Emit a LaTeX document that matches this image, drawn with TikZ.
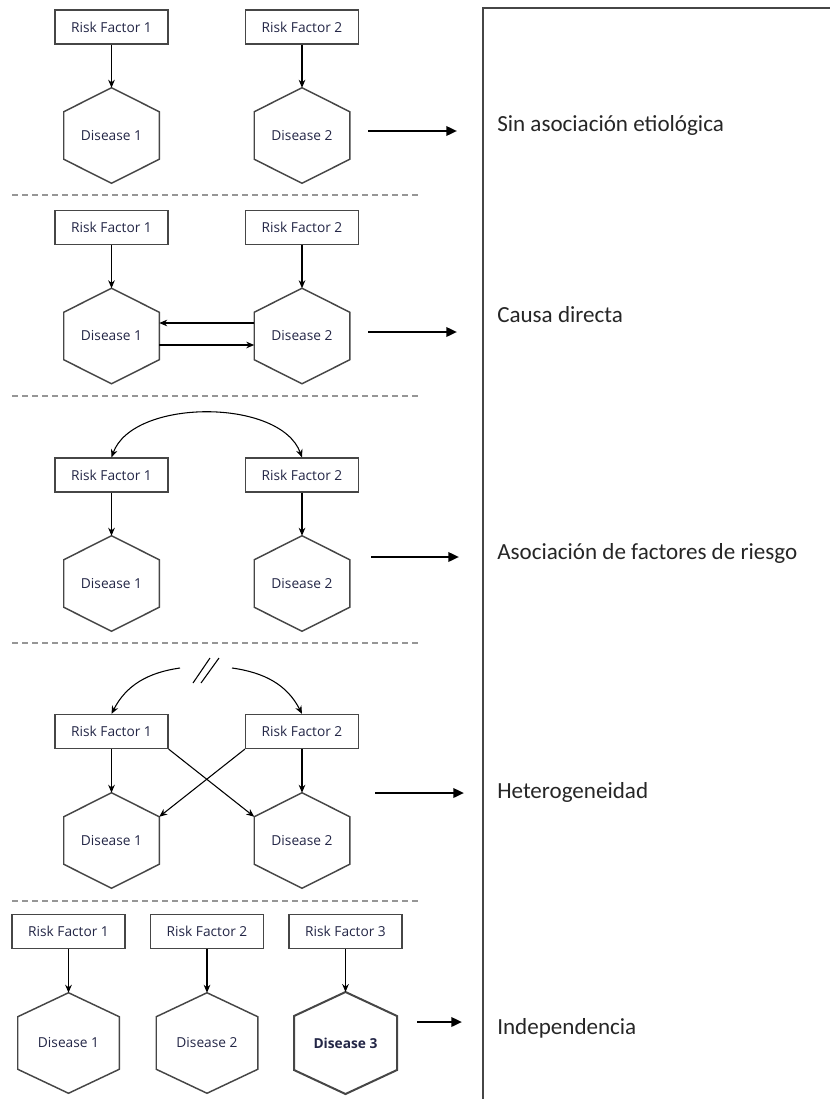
\documentclass[tikz,border=0pt]{standalone}
\usepackage{fontspec}
\newfontfamily\diagfont{Open Sans}
\newfontfamily\notefont{Carlito}
\usetikzlibrary{arrows.meta}

\definecolor{labelink}{RGB}{35,38,70}
\definecolor{edgegray}{RGB}{70,70,70}
\definecolor{dashgray}{RGB}{150,150,150}

\tikzset{
  rf/.style={draw=edgegray, line width=0.9pt, minimum width=84.75pt, minimum height=25.5pt,
    inner sep=0pt, font=\diagfont\fontsize{10.3}{12}\selectfont, text=labelink},
  dis/.style={minimum width=71.25pt, minimum height=71.25pt, inner sep=0pt,
    font=\diagfont\fontsize{10.3}{12}\selectfont, text=labelink},
  big/.style={minimum width=75.75pt, minimum height=75pt},
  strong/.style={font=\diagfont\bfseries\fontsize{10.3}{12}\selectfont, line width=1.5pt},
  hexline/.style={draw=edgegray, line width=1.1pt},
  link/.style={-{Stealth[length=6pt,width=5pt]}, line width=0.8pt},
  twoway/.style={{Stealth[length=6pt,width=5pt]}-{Stealth[length=6pt,width=5pt]}, line width=0.8pt},
  result/.style={-{Triangle[length=8pt,width=7pt]}, line width=1.8pt},
  sep/.style={draw=dashgray, line width=1.1pt, dash pattern=on 4.5pt off 3pt},
  frame/.style={draw=edgegray, line width=1.1pt},
  note/.style={anchor=west, inner sep=0pt, font=\notefont\fontsize{17.3}{20}\selectfont, text=black!85},
}

% hexagon: name, position, text
\newcommand{\hexnode}[4][]{%
  \node[dis,#1] (#2) at (#3) {#4};
  \draw[hexline,#1] (#2.north) -- ([yshift=-18pt]#2.north east) -- ([yshift=18pt]#2.south east)
    -- (#2.south) -- ([yshift=18pt]#2.south west) -- ([yshift=-18pt]#2.north west) -- cycle;
}

\begin{document}
\begin{tikzpicture}[x=0.75pt, y=0.75pt]
    \useasboundingbox (0,0) rectangle (829,-1099);

    % right frame
    \draw[frame] (830,-8) -- (483,-8) -- (483,-1100);

    % separators
    \foreach \y in {195,396,643,901}
        \draw[sep] (12,-\y) -- (421,-\y);

    % Sin asociacion etiologica
    \begin{scope}[shift={(0,-27)}]
        \node[rf] (rf1) at (111.5,0) {Risk Factor 1};
        \node[rf] (rf2) at (302,0) {Risk Factor 2};
        \hexnode{d1}{111.5,-108.5}{Disease 1}
        \hexnode{d2}{302,-108.5}{Disease 2}
        \draw[link] (rf1) -- (d1.north);
        \draw[link] (rf2) -- (d2.north);
        \coordinate (go) at (368,-104);
        \coordinate (stop) at (457,-104);
        \draw[result] (go) -- (stop);
        \node[note] (lab1) at (497,-98) {Sin asociación etiológica};
    \end{scope}

    % Causa directa
    \begin{scope}[shift={(0,-227.5)}]
        \node[rf] (rf1) at (111.5,0) {Risk Factor 1};
        \node[rf] (rf2) at (302,0) {Risk Factor 2};
        \hexnode{d1}{111.5,-108.5}{Disease 1}
        \hexnode{d2}{302,-108.5}{Disease 2}
        \draw[link] (rf1) -- (d1.north);
        \draw[link] (rf2) -- (d2.north);
        \draw[link] ([yshift=9.75pt]d2.west) -- ([yshift=9.75pt]d1.east);
        \draw[link] ([yshift=-6.75pt]d1.east) -- ([yshift=-6.75pt]d2.west);
        \coordinate (go) at (368,-104.5);
        \coordinate (stop) at (457,-104.5);
        \draw[result] (go) -- (stop);
        \node[note] (lab2) at (497,-87.5) {Causa directa};
    \end{scope}

    % Asociacion de factores de riesgo
    \begin{scope}[shift={(0,-475)}]
        \node[rf] (rf1) at (111.5,0) {Risk Factor 1};
        \node[rf] (rf2) at (302,0) {Risk Factor 2};
        \hexnode{d1}{111.5,-108.5}{Disease 1}
        \hexnode{d2}{302,-108.5}{Disease 2}
        \draw[link] (rf1) -- (d1.north);
        \draw[link] (rf2) -- (d2.north);
        \draw[twoway] (rf1.north) to[out=70,in=110,looseness=0.85] (rf2.north);
        \coordinate (go) at (371,-82);
        \coordinate (stop) at (459,-82);
        \draw[result] (go) -- (stop);
        \node[note] (lab3) at (497,-78) {Asociación de factores de riesgo};
    \end{scope}

    % Heterogeneidad
    \begin{scope}[shift={(0,-731.5)}]
        \node[rf] (rf1) at (111.5,0) {Risk Factor 1};
        \node[rf] (rf2) at (302,0) {Risk Factor 2};
        \hexnode{d1}{111.5,-109}{Disease 1}
        \hexnode{d2}{302,-109}{Disease 2}
        \draw[link] (rf1) -- (d1.north);
        \draw[link] (rf2) -- (d2.north);
        \draw[link] (rf1.south east) -- ([yshift=-18pt]d2.north west);
        \draw[link] (rf2.south west) -- ([yshift=-18pt]d1.north east);
        \coordinate (lcut) at (180,63.5);
        \coordinate (rcut) at (232,63.5);
        \draw[link] (lcut) to[out=188,in=63] (rf1.north);
        \draw[link] (rcut) to[out=-8,in=117] (rf2.north);
        \draw[line width=0.8pt] (193,48.5) -- (210,73.5);
        \draw[line width=0.8pt] (201,48.5) -- (219,73.5);
        \coordinate (go) at (375,-61.5);
        \coordinate (stop) at (464,-61.5);
        \draw[result] (go) -- (stop);
        \node[note] (lab4) at (497,-60.5) {Heterogeneidad};
    \end{scope}

    % Independencia
    \begin{scope}[shift={(0,-931.5)}]
        \node[rf] (rf1) at (68.5,0) {Risk Factor 1};
        \node[rf] (rf2) at (207,0) {Risk Factor 2};
        \node[rf, line width=1.2pt] (rf3) at (345.5,0) {Risk Factor 3};
        \hexnode[big]{d1}{68.5,-111.5}{Disease 1}
        \hexnode[big]{d2}{207,-111.5}{Disease 2}
        \hexnode[big,strong]{d3}{345.5,-111.5}{Disease 3}
        \foreach \i in {1,2,3} \draw[link] (rf\i) -- (d\i.north);
        \coordinate (go) at (417,-90.5);
        \coordinate (stop) at (462,-90.5);
        \draw[result] (go) -- (stop);
        \node[note] (lab5) at (497,-96.5) {Independencia};
    \end{scope}
\end{tikzpicture}
\end{document}
